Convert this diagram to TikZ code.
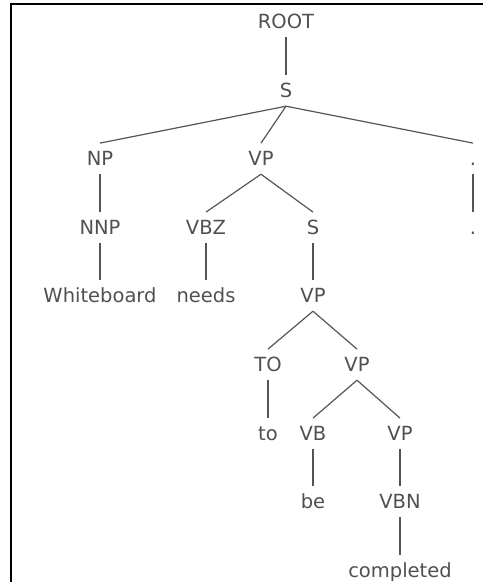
\documentclass[tikz,border=0pt]{standalone}
\usepackage{fontspec}
\setmainfont{DejaVu Sans}
\usepackage{tikz}
\usetikzlibrary{positioning}

\definecolor{treetext}{HTML}{505050}
\definecolor{treeline}{HTML}{555555}

\begin{document}
\begin{tikzpicture}[x=1pt, y=-1pt,
  every node/.style={font=\fontsize{19.5}{23}\selectfont, text=treetext,
    text height=14.2pt, text depth=1.5pt, inner xsep=2pt, inner ysep=7.5pt, anchor=base},
  edge/.style={draw=treeline, line width=1.2pt}]
\useasboundingbox (0,0) rectangle (483,582);
% frame
\draw[line width=1.2pt] (483,4) -- (11,4) -- (11,582);
% labels, row by row
\node (root) at (286,28) {ROOT};
\node (s) at (286,97) {S};
\node (np) at (100,165) {NP};
\node (vp) at (261,165) {VP};
\node (pu) at (473,165) {.};
\node (nnp) at (100,234) {NNP};
\node (vbz) at (206,234) {VBZ};
\node (sb) at (313,234) {S};
\node (pw) at (473,234) {.};
\node (wb) at (100,302) {Whiteboard};
\node (needs) at (206,302) {needs};
\node (vpb) at (313,302) {VP};
\node (to) at (268,371) {TO};
\node (vpc) at (357,371) {VP};
\node (tow) at (268,440) {to};
\node (vb) at (313,440) {VB};
\node (vpd) at (400,440) {VP};
\node (be) at (313,508) {be};
\node (vbn) at (400,508) {VBN};
\node (done) at (400,577) {completed};
% branches
\foreach \a/\b in {root/s, s/np, s/vp, s/pu, np/nnp, vp/vbz, vp/sb, pu/pw,
  nnp/wb, vbz/needs, sb/vpb, vpb/to, vpb/vpc, to/tow, vpc/vb, vpc/vpd,
  vb/be, vpd/vbn, vbn/done}
  \draw[edge] (\a.south) -- (\b.north);
\end{tikzpicture}
\end{document}
